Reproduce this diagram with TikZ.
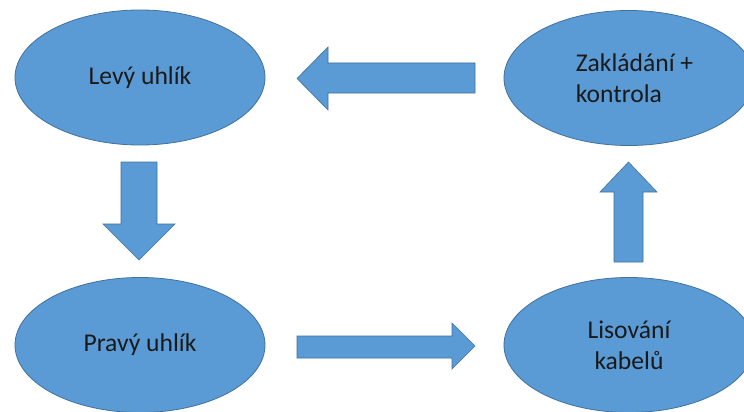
\documentclass[tikz,border=0pt]{standalone}
\usepackage{fontspec}
\setmainfont{Carlito}
\usetikzlibrary{shapes.geometric}
\definecolor{officeblue}{HTML}{5B9BD5}
\definecolor{officeedge}{HTML}{41719C}
\definecolor{txt}{HTML}{1A1A1A}
\tikzset{
  stage/.style={ellipse, fill=officeblue, draw=officeedge, line width=0.8pt,
    minimum width=250pt, minimum height=135pt, inner sep=0pt,
    text=txt, font=\fontsize{25.6}{31}\selectfont},
  blockarrow/.style={fill=officeblue, draw=officeedge, line width=0.6pt, line join=miter}
}
\begin{document}
\begin{tikzpicture}[x=1pt,y=-1pt]
\useasboundingbox (0,0) rectangle (744,412);
\clip (0,0) rectangle (744,412);
\fill[white] (0,0) rectangle (744,412);
% stages
\node[stage] (levy) at (140,77.5) {Levý uhlík};
\node[stage] (zaklad) at (629,78) {};
\node[align=left, text=txt, font=\fontsize{25.6}{31}\selectfont] (zakladtxt) at (634.5,78) {Zakládání +\\kontrola};
\node[stage] (pravy) at (140,345) {Pravý uhlík};
\node[stage, align=center] (lis) at (629,345) {Lisování\\kabelů};
% block arrows
\draw[blockarrow] (475,63) -- (328,63) -- (328,47) -- (297,78.5) -- (328,110) -- (328,93) -- (475,93) -- cycle;
\draw[blockarrow] (121,162) -- (157,162) -- (157,224) -- (175,224) -- (139,260) -- (103,224) -- (121,224) -- cycle;
\draw[blockarrow] (297,336) -- (452,336) -- (452,323) -- (475,346) -- (452,369) -- (452,358) -- (297,358) -- cycle;
\draw[blockarrow] (614,262) -- (614,192) -- (600,192) -- (628.5,162) -- (657,192) -- (643,192) -- (643,262) -- cycle;
\end{tikzpicture}
\end{document}
